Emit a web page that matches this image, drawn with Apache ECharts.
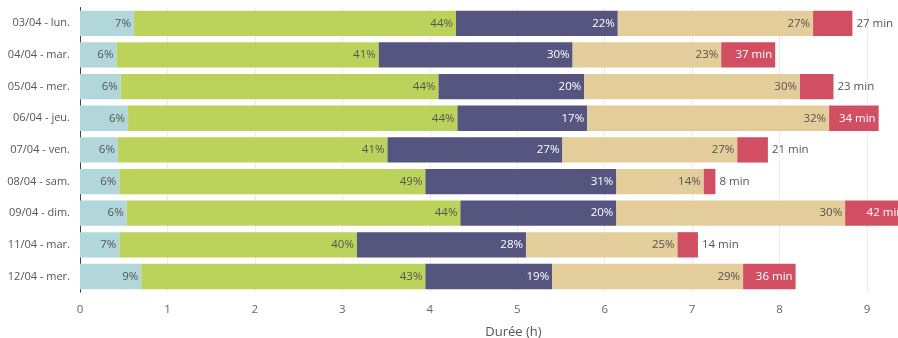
<!DOCTYPE html>
<html>
<head>
<meta charset="utf-8">
<script src="https://cdn.jsdelivr.net/npm/echarts@6/dist/echarts.min.js"></script>
<style>
  html, body { margin: 0; padding: 0; background: #fff; }
  #chart { width: 898px; height: 338px; }
</style>
</head>
<body>
<div id="chart"></div>
<script>
// Nuits de sommeil : durée de chaque phase, en minutes
const nights = ['03/04 - lun.', '04/04 - mar.', '05/04 - mer.', '06/04 - jeu.', '07/04 - ven.',
                '08/04 - sam.', '09/04 - dim.', '11/04 - mar.', '12/04 - mer.'];
const phaseA = [37, 25, 28, 33, 26, 27, 32, 27, 42];
const phaseB = [221, 180, 218, 226, 185, 210, 229, 163, 195];
const phaseC = [111, 133, 100, 89, 120, 131, 107, 116, 87];
const phaseD = [134, 102, 148, 166, 120, 60, 157, 104, 131];
const awake = [27, 37, 23, 34, 21, 8, 42, 14, 36];
const hourTicks = [0, 1, 2, 3, 4, 5, 6, 7, 8, 9];

const phases = [phaseA, phaseB, phaseC, phaseD];
const colors = ['#b1d7da', '#bbd35b', '#55557f', '#e3cd9b', '#d24e63'];
const FONT = '"Open Sans", sans-serif';

const totals = nights.map((_, i) => phases.reduce((s, p) => s + p[i], 0));

const chart = echarts.init(document.getElementById('chart'), null, { renderer: 'canvas' });

const series = phases.map((p, k) => ({
  type: 'bar',
  stack: 'nuit',
  clip: false,
  barCategoryGap: '20%',
  itemStyle: { color: colors[k] },
  label: {
    show: true,
    position: 'insideRight',
    distance: 3,
    fontFamily: FONT,
    fontSize: 11.5,
    color: k === 2 ? '#ffffff' : '#555555',
    formatter: (prm) => Math.round(p[prm.dataIndex] / totals[prm.dataIndex] * 100) + '%'
  },
  data: p.map(v => v / 60)
}));

series.push({
  type: 'bar',
  stack: 'nuit',
  clip: false,
  barCategoryGap: '20%',
  itemStyle: { color: colors[4] },
  data: awake.map(v => {
    const inside = v > 30;
    return {
      value: v / 60,
      label: {
        show: true,
        position: inside ? 'insideRight' : 'right',
        distance: inside ? 3 : 4,
        fontFamily: FONT,
        fontSize: 11.5,
        color: inside ? '#ffffff' : '#555555',
        formatter: v + ' min'
      }
    };
  })
});

chart.setOption({
  animation: false,
  grid: { left: 80, right: 31, top: 7.5, bottom: 45.7, containLabel: false, outerBoundsMode: 'none' },
  xAxis: {
    type: 'value',
    min: hourTicks[0],
    max: hourTicks[hourTicks.length - 1],
    interval: 1,
    name: 'Durée (h)',
    nameLocation: 'middle',
    nameGap: 33,
    nameTextStyle: { fontFamily: FONT, fontSize: 13, color: '#555', padding: [0, 0, 0, 80] },
    axisLine: { show: false },
    axisTick: { show: false },
    axisLabel: { fontFamily: FONT, fontSize: 11.5, color: '#666', margin: 11 },
    splitLine: { show: true, lineStyle: { color: '#ececec', width: 1 } }
  },
  yAxis: {
    type: 'category',
    inverse: true,
    data: nights,
    axisLine: { show: true, lineStyle: { color: '#444', width: 1 } },
    axisTick: { show: false },
    axisLabel: { fontFamily: FONT, fontSize: 11, color: '#555', margin: 10 },
    splitLine: { show: false }
  },
  series: series
});
</script>
</body>
</html>
